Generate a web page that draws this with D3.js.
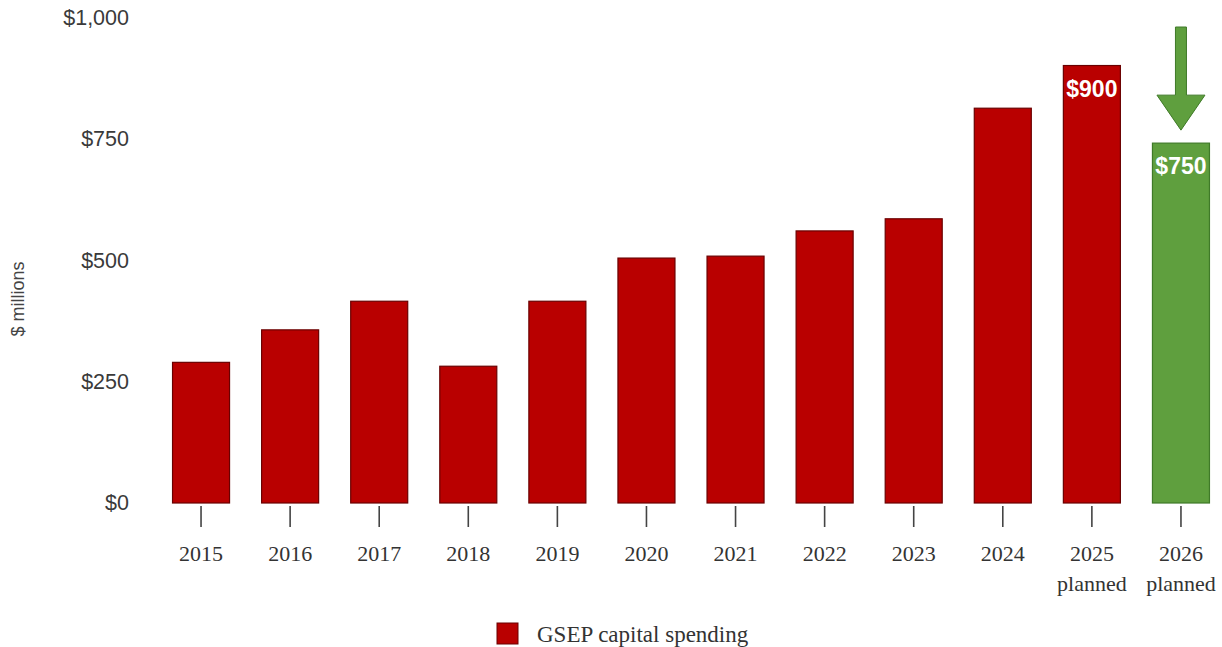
<!DOCTYPE html>
<html>
<head>
<meta charset="utf-8">
<script src="https://cdn.jsdelivr.net/npm/d3@7"></script>
<style>
  html, body { margin: 0; padding: 0; background: #ffffff; }
  svg { display: block; }
</style>
</head>
<body>
<svg id="chart" width="1222" height="647"></svg>
<script>
// ---- data ----
const years = ["2015","2016","2017","2018","2019","2020","2021","2022","2023","2024","2025","2026"];
const subLabels = ["","","","","","","","","","","planned","planned"];
const spending = [290, 357, 416, 282, 416, 505, 509, 561, 586, 814, 902, 742];
const barLabels = ["","","","","","","","","","","$900","$750"];
const planned2026 = ["2026"];
const yTicks = [0, 250, 500, 750, 1000];
const legendLabel = "GSEP capital spending";
const yTitle = "$ millions";

// ---- layout ----
const svg = d3.select("#chart");
const x = d3.scaleBand().domain(years).range([156.5, 1225.5]).paddingInner(0.36).paddingOuter(0.18);
const y = d3.scaleLinear().domain([0, 1000]).range([503, 18]);

const red = "#b90000", redStroke = "#6a0000";
const green = "#5f9f3e", greenStroke = "#3f7a28";

// y axis labels
svg.append("g").selectAll("text").data(yTicks).join("text")
  .attr("x", 129).attr("y", d => y(d))
  .attr("text-anchor", "end").attr("dominant-baseline", "central")
  .attr("font-family", "Liberation Sans, Arial, sans-serif").attr("font-size", 21.5)
  .attr("fill", "#3a3a3a")
  .text(d => "$" + d3.format(",")(d));

svg.append("text")
  .attr("transform", "translate(18,299) rotate(-90)")
  .attr("text-anchor", "middle").attr("dominant-baseline", "central")
  .attr("font-family", "Liberation Sans, Arial, sans-serif").attr("font-size", 18)
  .attr("fill", "#444").text(yTitle);

// bars
svg.append("g").selectAll("rect").data(years).join("rect")
  .attr("x", d => x(d)).attr("width", x.bandwidth())
  .attr("y", (d, i) => y(spending[i])).attr("height", (d, i) => y(0) - y(spending[i]))
  .attr("fill", d => planned2026.includes(d) ? green : red)
  .attr("stroke", d => planned2026.includes(d) ? greenStroke : redStroke)
  .attr("stroke-width", 1.2);

// bar value labels
svg.append("g").selectAll("text").data(years).join("text")
  .attr("x", d => x(d) + x.bandwidth() / 2)
  .attr("y", (d, i) => y(spending[i]) + 23)
  .attr("text-anchor", "middle").attr("dominant-baseline", "central")
  .attr("font-family", "Liberation Sans, Arial, sans-serif").attr("font-weight", "bold")
  .attr("font-size", 23).attr("fill", "#fff")
  .text((d, i) => barLabels[i]);

// x axis ticks
const xAxis = d3.axisBottom(x).tickSize(21).tickFormat("");
const gx = svg.append("g").attr("transform", "translate(0,506)").call(xAxis);
gx.select(".domain").remove();
gx.selectAll(".tick line").attr("stroke", "#444").attr("stroke-width", 1.6);

// x labels
const xl = svg.append("g").selectAll("text").data(years).join("text")
  .attr("text-anchor", "middle")
  .attr("font-family", "Liberation Serif, Times New Roman, serif").attr("font-size", 22)
  .attr("fill", "#333");
xl.append("tspan").attr("x", d => x(d) + x.bandwidth() / 2).attr("y", 561).text(d => d);
xl.append("tspan").attr("x", d => x(d) + x.bandwidth() / 2).attr("y", 591).text((d, i) => subLabels[i]);

// arrow above 2026
const ax = x("2026") + x.bandwidth() / 2;
const tipY = y(spending[11]) - 13;
const arrow = d3.path();
arrow.moveTo(ax - 5.5, 27);
arrow.lineTo(ax + 5.5, 27);
arrow.lineTo(ax + 5.5, tipY - 35);
arrow.lineTo(ax + 24, tipY - 35);
arrow.lineTo(ax, tipY);
arrow.lineTo(ax - 24, tipY - 35);
arrow.lineTo(ax - 5.5, tipY - 35);
arrow.closePath();
svg.append("path").attr("d", arrow.toString())
  .attr("fill", green).attr("stroke", greenStroke).attr("stroke-width", 1);

// legend
const lg = svg.append("g").attr("transform", "translate(497,623)");
lg.append("rect").attr("width", 21).attr("height", 21).attr("fill", red).attr("stroke", redStroke);
lg.append("text").attr("x", 40).attr("y", 19)
  .attr("font-family", "Liberation Serif, Times New Roman, serif").attr("font-size", 23)
  .attr("fill", "#333").text(legendLabel);
</script>
</body>
</html>
